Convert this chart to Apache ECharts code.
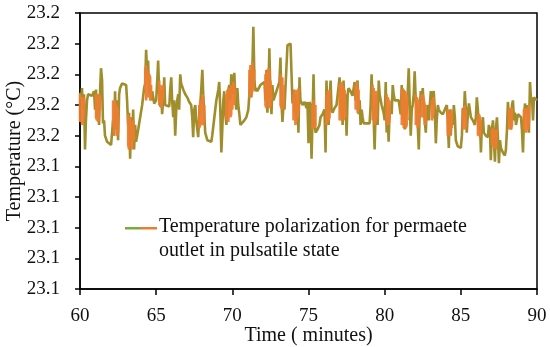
<!DOCTYPE html>
<html><head><meta charset="utf-8">
<script src="https://cdn.jsdelivr.net/npm/echarts@6/dist/echarts.min.js"></script>
<style>html,body{margin:0;padding:0;background:#fff}#c{width:550px;height:347px}</style>
</head><body><div id="c"></div>
<script>
var xTicks = [60, 65, 70, 75, 80, 85, 90];
var yTicks = [23.06, 23.08, 23.10, 23.12, 23.14, 23.16, 23.18, 23.20, 23.22, 23.24];
var legendName = 'Temperature polarization for permaete\noutlet in pulsatile state';

// Main (olive) trace: time in minutes, temperature in °C
var oliveTime = [60.00,60.07,60.13,60.20,60.26,60.33,60.39,60.46,60.53,60.66,60.79,60.86,60.92,60.99,61.05,61.12,61.18,61.25,61.32,61.38,61.45,61.51,61.58,61.64,61.78,61.91,62.04,62.11,62.17,62.24,62.30,62.37,62.43,62.50,62.57,62.63,62.76,62.89,63.03,63.09,63.16,63.22,63.29,63.36,63.42,63.49,63.55,63.62,63.68,63.82,63.95,64.08,64.21,64.28,64.34,64.41,64.47,64.54,64.61,64.67,64.74,64.87,65.00,65.07,65.13,65.20,65.26,65.33,65.39,65.46,65.53,65.59,65.72,65.86,65.92,65.99,66.05,66.12,66.18,66.25,66.32,66.38,66.45,66.51,66.58,66.64,66.78,66.91,67.04,67.17,67.30,67.37,67.43,67.50,67.57,67.63,67.70,67.76,67.83,67.89,67.96,68.03,68.09,68.16,68.22,68.36,68.49,68.62,68.68,68.82,68.95,69.08,69.14,69.21,69.28,69.34,69.41,69.47,69.54,69.61,69.67,69.74,69.80,69.87,69.93,70.00,70.07,70.13,70.20,70.26,70.33,70.39,70.46,70.53,70.66,70.79,70.92,71.05,71.12,71.18,71.25,71.32,71.38,71.45,71.51,71.58,71.64,71.71,71.84,71.97,72.11,72.17,72.24,72.30,72.37,72.43,72.50,72.57,72.63,72.70,72.83,72.96,73.09,73.16,73.22,73.29,73.36,73.42,73.55,73.62,73.68,73.82,73.88,73.95,74.01,74.08,74.14,74.21,74.28,74.34,74.41,74.47,74.61,74.74,74.87,74.93,75.00,75.07,75.13,75.20,75.26,75.33,75.39,75.46,75.59,75.72,75.79,75.92,76.05,76.12,76.18,76.25,76.32,76.38,76.45,76.51,76.58,76.71,76.84,76.97,77.04,77.11,77.17,77.24,77.30,77.37,77.43,77.50,77.57,77.63,77.76,77.89,78.03,78.09,78.16,78.22,78.29,78.36,78.42,78.49,78.55,78.62,78.82,79.01,79.08,79.14,79.21,79.28,79.34,79.41,79.47,79.54,79.61,79.67,79.80,79.93,80.00,80.07,80.13,80.20,80.26,80.33,80.39,80.46,80.53,80.59,80.66,80.79,80.92,80.99,81.05,81.12,81.18,81.25,81.32,81.38,81.45,81.51,81.58,81.64,81.71,81.78,81.84,81.91,81.97,82.04,82.11,82.17,82.24,82.30,82.37,82.43,82.50,82.57,82.63,82.70,82.76,82.83,82.89,83.03,83.09,83.16,83.22,83.29,83.36,83.42,83.49,83.55,83.68,83.82,83.95,84.01,84.08,84.14,84.21,84.28,84.34,84.41,84.47,84.54,84.61,84.67,84.80,84.93,85.00,85.07,85.13,85.20,85.26,85.33,85.39,85.46,85.53,85.59,85.66,85.79,85.92,85.99,86.05,86.12,86.18,86.25,86.32,86.38,86.45,86.51,86.64,86.78,86.84,86.91,86.97,87.04,87.11,87.17,87.24,87.30,87.37,87.43,87.50,87.57,87.63,87.76,87.89,87.96,88.03,88.09,88.16,88.22,88.29,88.36,88.42,88.49,88.55,88.62,88.75,88.88,88.95,89.01,89.08,89.14,89.21,89.28,89.34,89.41,89.47,89.54,89.61,89.67,89.74,89.80,89.93,90.00];
var oliveTemp = [23.188,23.183,23.191,23.177,23.187,23.151,23.170,23.183,23.187,23.187,23.186,23.185,23.189,23.177,23.190,23.172,23.187,23.167,23.190,23.204,23.196,23.168,23.170,23.160,23.156,23.155,23.154,23.155,23.170,23.160,23.189,23.164,23.183,23.157,23.187,23.191,23.194,23.195,23.193,23.183,23.167,23.175,23.145,23.172,23.157,23.177,23.151,23.167,23.156,23.164,23.172,23.180,23.191,23.194,23.216,23.200,23.209,23.187,23.193,23.183,23.189,23.181,23.183,23.196,23.209,23.187,23.179,23.190,23.174,23.183,23.198,23.180,23.181,23.179,23.190,23.198,23.183,23.172,23.183,23.160,23.177,23.183,23.187,23.177,23.200,23.194,23.190,23.187,23.185,23.182,23.180,23.172,23.159,23.177,23.180,23.170,23.164,23.159,23.174,23.180,23.190,23.203,23.187,23.174,23.162,23.157,23.157,23.156,23.160,23.172,23.183,23.190,23.195,23.177,23.149,23.164,23.183,23.189,23.174,23.167,23.180,23.190,23.193,23.183,23.200,23.187,23.196,23.201,23.183,23.177,23.191,23.180,23.174,23.167,23.168,23.170,23.172,23.177,23.187,23.203,23.185,23.206,23.231,23.196,23.189,23.191,23.189,23.190,23.193,23.192,23.195,23.183,23.203,23.175,23.190,23.217,23.187,23.174,23.193,23.183,23.187,23.191,23.195,23.211,23.183,23.169,23.180,23.177,23.178,23.219,23.220,23.220,23.219,23.181,23.190,23.175,23.187,23.170,23.183,23.162,23.198,23.183,23.180,23.182,23.178,23.182,23.155,23.182,23.180,23.145,23.170,23.200,23.172,23.162,23.164,23.167,23.172,23.174,23.177,23.149,23.196,23.172,23.167,23.183,23.196,23.177,23.175,23.178,23.180,23.181,23.198,23.175,23.191,23.167,23.196,23.177,23.187,23.160,23.187,23.191,23.189,23.186,23.195,23.183,23.193,23.196,23.174,23.183,23.167,23.177,23.172,23.168,23.168,23.168,23.180,23.200,23.183,23.170,23.151,23.177,23.187,23.167,23.196,23.187,23.180,23.175,23.170,23.195,23.162,23.172,23.156,23.177,23.180,23.174,23.193,23.187,23.183,23.183,23.183,23.183,23.174,23.193,23.170,23.190,23.164,23.183,23.174,23.187,23.204,23.183,23.160,23.177,23.180,23.187,23.202,23.183,23.177,23.167,23.151,23.177,23.189,23.183,23.191,23.178,23.170,23.162,23.177,23.180,23.170,23.189,23.180,23.187,23.189,23.177,23.155,23.170,23.180,23.177,23.175,23.174,23.177,23.178,23.180,23.170,23.152,23.177,23.160,23.174,23.167,23.180,23.172,23.157,23.153,23.152,23.152,23.160,23.178,23.172,23.189,23.177,23.162,23.174,23.181,23.177,23.172,23.170,23.167,23.172,23.185,23.177,23.164,23.170,23.149,23.167,23.172,23.162,23.160,23.159,23.167,23.164,23.144,23.164,23.170,23.157,23.143,23.164,23.172,23.160,23.142,23.157,23.152,23.149,23.147,23.151,23.164,23.182,23.172,23.177,23.164,23.180,23.183,23.170,23.175,23.167,23.174,23.174,23.172,23.164,23.149,23.170,23.181,23.174,23.180,23.181,23.162,23.195,23.183,23.185,23.170,23.185,23.185,23.183];

// Fast-oscillation (orange) bursts; null temperature separates bursts
var orangeTime = [60.00,60.00,60.07,60.07,60.13,60.13,60.20,60.20,60.26,60.26,60.30,
61.05,61.05,61.12,61.12,61.18,61.18,61.25,61.25,61.32,61.32,61.35,
62.17,62.17,62.24,62.24,62.30,62.30,62.37,62.37,62.43,62.43,62.50,62.50,62.55,
63.16,63.16,63.22,63.22,63.29,63.29,63.36,63.36,63.42,63.42,63.49,63.49,63.55,63.55,63.60,
64.28,64.28,64.34,64.34,64.41,64.41,64.47,64.47,64.54,64.54,64.61,64.61,64.67,64.67,64.70,
65.20,65.20,65.26,65.26,65.33,65.33,65.46,65.46,65.50,
67.83,67.83,67.89,67.89,67.96,67.96,68.03,68.03,68.09,68.09,68.16,68.16,68.20,
69.61,69.61,69.67,69.67,69.74,69.74,69.80,69.80,69.87,69.87,69.93,69.93,70.00,70.00,70.07,70.07,70.13,70.13,70.20,70.20,70.25,
71.12,71.12,71.18,71.18,71.25,71.25,71.32,71.32,71.38,71.38,71.45,71.45,71.50,
72.17,72.17,72.24,72.24,72.30,72.30,72.37,72.37,72.43,72.43,72.50,72.50,72.57,72.57,72.60,
73.16,73.16,73.22,73.22,73.29,73.29,73.36,73.36,73.40,
74.01,74.01,74.08,74.08,74.14,74.14,74.21,74.21,74.28,74.28,74.34,74.34,74.40,
75.26,75.26,75.33,75.33,75.39,75.39,75.46,75.46,75.50,
76.18,76.18,76.25,76.25,76.32,76.32,76.38,76.38,76.42,
77.04,77.04,77.11,77.11,77.17,77.17,77.24,77.24,77.30,77.30,77.37,77.37,77.43,77.43,77.47,
78.09,78.09,78.16,78.16,78.22,78.22,78.29,78.29,78.33,
79.21,79.21,79.28,79.28,79.34,79.34,79.41,79.41,79.47,79.47,79.50,
80.13,80.13,80.20,80.20,80.26,80.26,80.33,80.33,80.36,
81.12,81.12,81.18,81.18,81.25,81.25,81.32,81.32,81.38,81.38,81.45,81.45,81.51,81.51,81.55,
82.04,82.04,82.11,82.11,82.17,82.17,82.24,82.24,82.27,
82.43,82.43,82.50,82.50,82.63,82.63,82.70,82.70,82.73,
83.09,83.09,83.16,83.16,83.22,83.22,83.26,
84.14,84.14,84.21,84.21,84.28,84.28,84.34,84.34,84.41,84.41,84.45,
85.13,85.13,85.20,85.20,85.26,85.26,85.33,85.33,85.36,
86.12,86.12,86.18,86.18,86.25,86.25,86.32,86.32,86.35,
87.04,87.04,87.11,87.11,87.17,87.17,87.30,87.30,87.37,87.37,87.40,
88.16,88.16,88.22,88.22,88.29,88.29,88.36,88.36,88.40,
89.14,89.14,89.21,89.21,89.28,89.28,89.34,89.34,89.41,89.41,89.47,89.47];
var orangeTemp = [23.187,23.169,23.172,23.185,23.183,23.167,23.170,23.183,23.185,23.172,null,
23.187,23.172,23.170,23.183,23.185,23.169,23.172,23.187,23.185,23.177,null,
23.167,23.183,23.160,23.180,23.183,23.164,23.165,23.180,23.178,23.160,23.162,23.177,null,
23.174,23.154,23.151,23.170,23.172,23.152,23.154,23.169,23.167,23.151,23.152,23.170,23.170,23.157,null,
23.190,23.203,23.206,23.183,23.183,23.203,23.203,23.185,23.187,23.200,23.198,23.183,23.185,23.193,null,
23.196,23.180,23.180,23.193,23.191,23.178,23.193,23.183,null,
23.180,23.165,23.167,23.183,23.183,23.167,23.170,23.187,23.185,23.167,23.170,23.180,null,
23.187,23.170,23.172,23.190,23.189,23.169,23.170,23.191,23.190,23.172,23.174,23.193,23.191,23.177,23.177,23.195,23.193,23.180,23.180,23.190,null,
23.203,23.185,23.187,23.206,23.204,23.187,23.189,23.208,23.209,23.190,23.191,23.203,null,
23.200,23.180,23.178,23.202,23.203,23.180,23.183,23.204,23.202,23.178,23.180,23.196,23.196,23.183,null,
23.200,23.180,23.178,23.196,23.198,23.177,23.180,23.193,null,
23.187,23.170,23.172,23.190,23.191,23.167,23.170,23.190,23.187,23.172,23.174,23.191,null,
23.180,23.164,23.165,23.183,23.183,23.165,23.167,23.180,null,
23.187,23.167,23.170,23.189,23.187,23.170,23.172,23.190,null,
23.193,23.170,23.172,23.195,23.193,23.170,23.174,23.193,23.191,23.170,23.174,23.190,23.189,23.172,null,
23.193,23.177,23.180,23.195,23.191,23.175,23.178,23.190,null,
23.193,23.170,23.174,23.191,23.190,23.167,23.170,23.189,23.187,23.172,null,
23.187,23.167,23.170,23.185,23.183,23.167,23.172,23.183,null,
23.190,23.167,23.169,23.191,23.190,23.165,23.167,23.189,23.187,23.165,23.167,23.187,23.187,23.170,null,
23.187,23.167,23.170,23.185,23.183,23.165,23.167,23.183,null,
23.187,23.172,23.174,23.187,23.180,23.167,23.169,23.180,null,
23.183,23.170,23.172,23.183,23.185,23.174,null,
23.177,23.160,23.164,23.175,23.174,23.160,23.164,23.177,23.175,23.165,null,
23.177,23.164,23.165,23.178,23.180,23.164,23.167,23.177,null,
23.174,23.160,23.162,23.174,23.172,23.159,23.160,23.170,null,
23.164,23.154,23.157,23.165,23.164,23.152,23.164,23.151,23.152,23.164,null,
23.177,23.164,23.165,23.178,23.175,23.164,23.167,23.178,null,
23.177,23.164,23.165,23.178,23.177,23.162,23.165,23.178,23.177,23.164,23.170,23.180];

var FONT = '"Liberation Serif", "Times New Roman", serif';
var oliveColor = '#A08E2C';
var orangeColor = '#EC7D30';

var chart = echarts.init(document.getElementById('c'), null, {renderer: 'canvas'});
chart.setOption({
  animation: false,
  backgroundColor: '#fff',
  grid: {left: 80, right: 13, top: 13, bottom: 58, containLabel: false, outerBoundsMode: 'none',
         show: true, borderColor: '#000', borderWidth: 1.5, backgroundColor: 'transparent'},
  legend: {
    left: 120, top: 210, orient: 'vertical',
    itemWidth: 32, itemHeight: 24, itemGap: 0,
    icon: 'path://M0,0H32V2.5H0Z M0,24H32V24.01H0Z',
    textStyle: {fontFamily: FONT, fontSize: 20, color: '#111', lineHeight: 24, padding: [0, 0, 0, -3]},
    data: [{name: legendName, itemStyle: {color: {type: 'linear', x: 0, y: 0, x2: 1, y2: 0, colorStops: [
      {offset: 0, color: '#7DAA3F'}, {offset: 0.5, color: '#7DAA3F'}, {offset: 0.5, color: orangeColor}, {offset: 1, color: orangeColor}]}}}]
  },
  xAxis: {
    type: 'value', min: xTicks[0], max: xTicks[xTicks.length - 1], interval: 5,
    name: 'Time ( minutes)', nameLocation: 'middle', nameGap: 37, nameMoveOverlap: false,
    nameTextStyle: {fontFamily: FONT, fontSize: 20, color: '#111'},
    axisLine: {show: true, lineStyle: {color: '#000', width: 1.5}},
    axisTick: {show: true, length: 6, lineStyle: {color: '#000', width: 1.5}},
    axisLabel: {fontFamily: FONT, fontSize: 19, color: '#111', margin: 18},
    splitLine: {show: false}
  },
  yAxis: {
    type: 'value', min: yTicks[0], max: yTicks[yTicks.length - 1], interval: 0.02,
    name: 'Temperature (°C)', nameLocation: 'middle', nameGap: 55, nameMoveOverlap: false,
    nameTextStyle: {fontFamily: FONT, fontSize: 20, color: '#111'},
    axisLine: {show: true, lineStyle: {color: '#000', width: 1.5}},
    axisTick: {show: true, length: 5, inside: false, lineStyle: {color: '#000', width: 1.5}},
    axisLabel: {fontFamily: FONT, fontSize: 19, color: '#111', margin: 20, formatter: function (v) { return v.toFixed(1); }},
    splitLine: {show: false}
  },
  series: [
    {
      name: legendName, type: 'line', showSymbol: false, symbol: 'none',
      data: oliveTime.map(function (t, i) { return [t, oliveTemp[i]]; }),
      lineStyle: {color: oliveColor, width: 2.6}, itemStyle: {color: oliveColor}, z: 2
    },
    {
      name: 'pulsatile', type: 'line', showSymbol: false, symbol: 'none', connectNulls: false,
      data: orangeTime.map(function (t, i) { return [t, orangeTemp[i] == null ? '-' : orangeTemp[i]]; }),
      lineStyle: {color: orangeColor, width: 2.5, opacity: 0.95}, itemStyle: {color: orangeColor}, z: 3
    }
  ]
});
</script></body></html>
